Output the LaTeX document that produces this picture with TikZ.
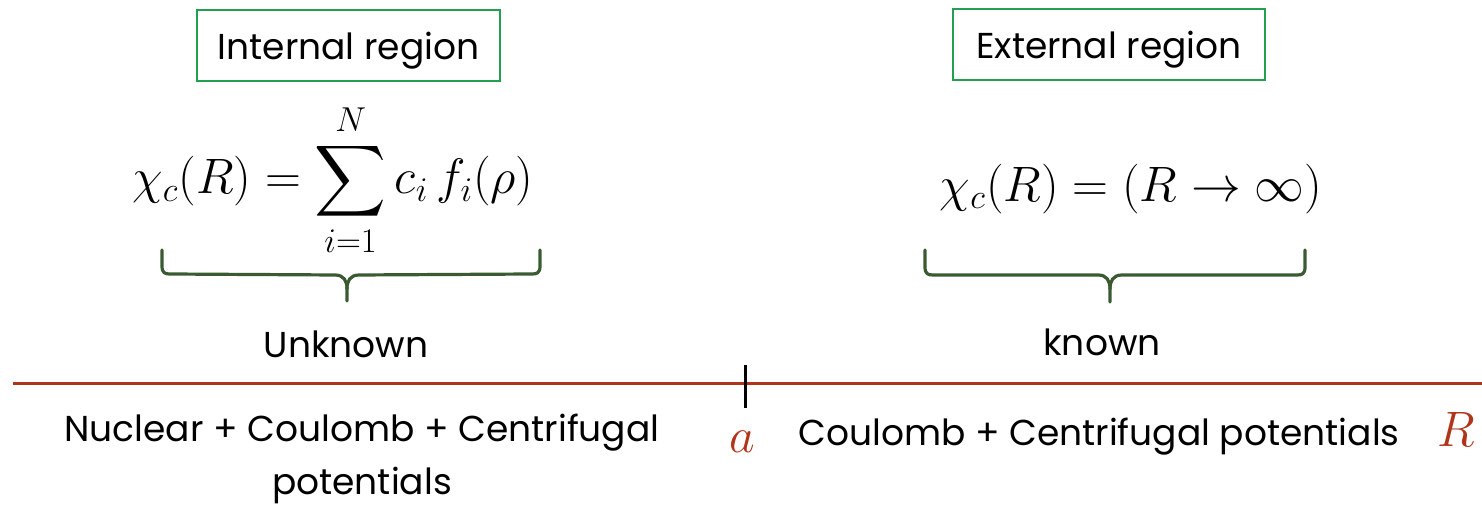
\documentclass[tikz,border=0pt]{standalone}
\usepackage{amsmath}
\usepackage{fontspec}
\setmainfont{Poppins}
\usetikzlibrary{calc}
\definecolor{rust}{HTML}{B0341A}
\definecolor{boxgreen}{HTML}{22A050}
\definecolor{bracegreen}{HTML}{3A5A32}
\begin{document}
\begin{tikzpicture}[x=0.5pt,y=-0.5pt]
\tikzset{
  regionbox/.style={draw=boxgreen,line width=0.7pt,inner sep=0pt,text depth=0pt,minimum width=#1,minimum height=35.5pt},
  txt/.style={font=\fontsize{18}{26.5}\selectfont,inner sep=0pt},
  eq/.style={font=\fontsize{25}{30}\selectfont,inner sep=0pt},
  eqr/.style={font=\fontsize{24}{29}\selectfont,inner sep=0pt},
  bracestyle/.style={draw=bracegreen,line width=1.6pt,line cap=round,line join=round},
}
\useasboundingbox (0,0) rectangle (1482,506);
% boxes
\node[regionbox=151.5pt,txt] (ib) at (348.5,45.5) {Internal region};
\node[regionbox=156pt,txt] (eb) at (1109,44.5) {External region};
% equations
\node[eq] (le) at (333,180) {$\displaystyle \chi_c(R)=\sum_{i=1}^{N} c_i\, f_i(\rho)$};
\node[eqr] (re) at (1131,189) {$\chi_c(R)=(R\rightarrow\infty)$};
% braces
\coordinate (lb1) at (162,250);
\coordinate (lb2) at (540,250);
\coordinate (lbt) at (347,301);
\coordinate (rb1) at (925,250);
\coordinate (rb2) at (1305,250);
\coordinate (rbt) at (1110,302);
\draw[bracestyle] (lb1) -- ++(0,16) .. controls +(0,7) and +(-5,0) .. ++(8,8) -- ($(lbt)+(-12,-26)$) .. controls +(9,0) and +(0,-8) .. ($(lbt)+(0,-12)$) -- (lbt);
\draw[bracestyle] (lb2) -- ++(0,16) .. controls +(0,7) and +(5,0) .. ++(-8,8) -- ($(lbt)+(12,-26)$) .. controls +(-9,0) and +(0,-8) .. ($(lbt)+(0,-12)$);
\draw[bracestyle] (rb1) -- ++(0,17) .. controls +(0,7) and +(-5,0) .. ++(8,8) -- ($(rbt)+(-12,-27)$) .. controls +(9,0) and +(0,-8) .. ($(rbt)+(0,-13)$) -- (rbt);
\draw[bracestyle] (rb2) -- ++(0,17) .. controls +(0,7) and +(5,0) .. ++(-8,8) -- ($(rbt)+(12,-27)$) .. controls +(-9,0) and +(0,-8) .. ($(rbt)+(0,-13)$);
\node[txt] (unk) at (346,344) {Unknown};
\node[txt] (kn) at (1102,342) {known};
% axis
\coordinate (ax1) at (13,384);
\coordinate (ax2) at (1482,384);
\draw[rust,line width=1.5pt] (ax1) -- (ax2);
\coordinate (t1) at (745,365);
\coordinate (t2) at (745,408);
\draw[black,line width=1.5pt] (t1) -- (t2);
% labels below
\node[txt,align=center] (nuc) at (362,459) {Nuclear + Coulomb + Centrifugal\\potentials};
\node[txt] (cou) at (1099,437) {Coulomb + Centrifugal potentials};
\node[eq,text=rust] (a) at (742,442) {$a$};
\node[eq,text=rust] (R) at (1456,430) {$R$};
\end{tikzpicture}
\end{document}
